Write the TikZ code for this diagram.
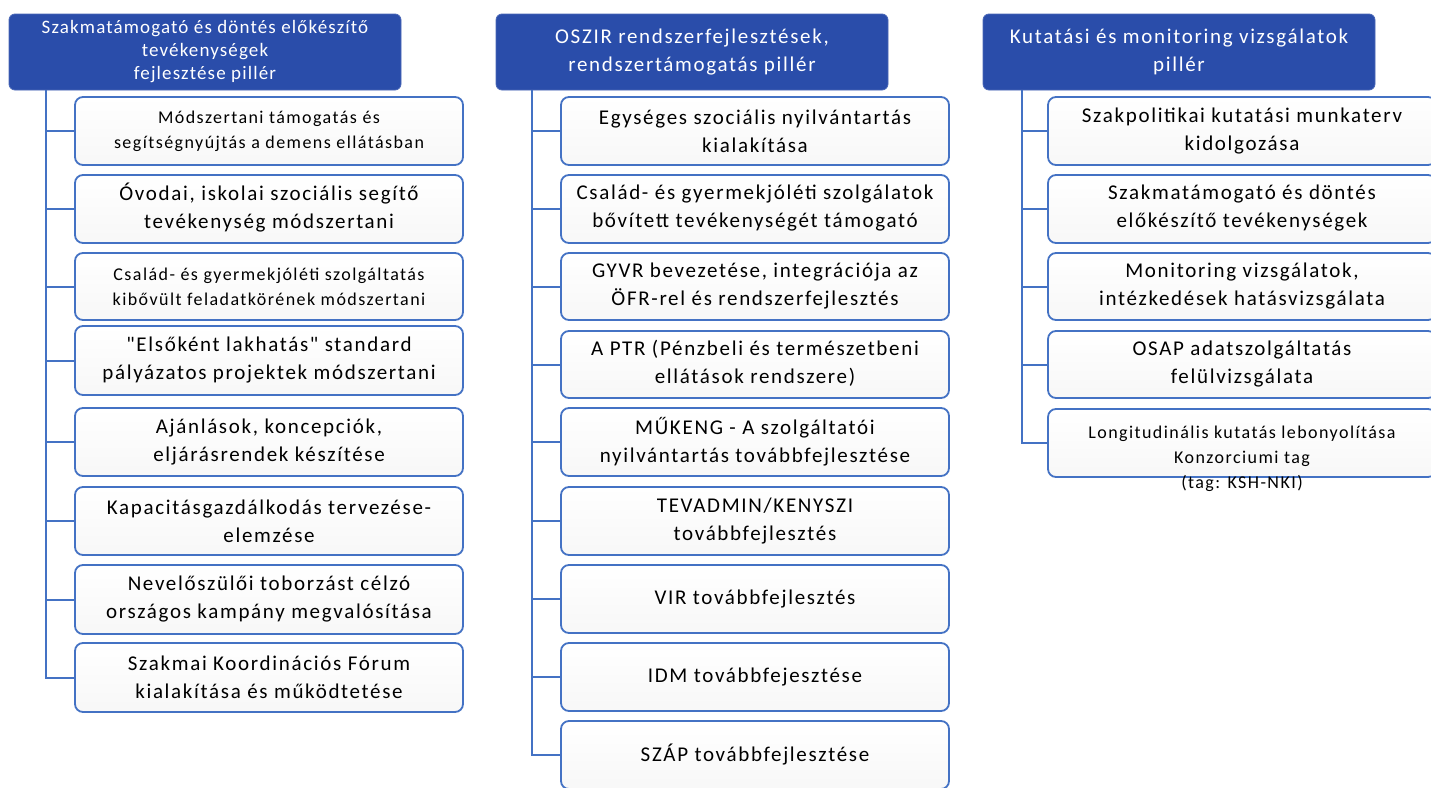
\documentclass[tikz,border=0pt]{standalone}
\usepackage{fontspec}
\setmainfont{Carlito}
\newfontfamily\boxfont[LetterSpace=8]{Carlito}
\newfontfamily\hdrsmallfont[LetterSpace=6]{Carlito}
\usetikzlibrary{calc}
\definecolor{hdrblue}{RGB}{42,77,170}
\definecolor{linkblue}{RGB}{68,114,196}
\begin{document}
\begin{tikzpicture}[x=1pt,y=-1pt,
  hdr/.style={fill=hdrblue, draw=hdrblue!85!white, line width=0.8pt, rounded corners=6pt,
    minimum width=392pt, minimum height=76pt, text=white, align=center, inner sep=0pt,
    font=\fontsize{21}{28}\selectfont\boxfont},
  item/.style={draw=linkblue, line width=1.8pt, rounded corners=8pt, top color=white,
    bottom color=black!3, minimum width=388pt, minimum height=68pt, align=center,
    inner sep=0pt, font=\fontsize{21}{28}\selectfont\boxfont},
  smalltxt/.style={font=\fontsize{18}{25}\selectfont\boxfont},
  link/.style={draw=linkblue, line width=2pt}]
\useasboundingbox (0,0) rectangle (1431,787);
\clip (0,0) rectangle (1431,787);
\fill[white] (0,0) rectangle (1431,787);

% ---------- left column ----------
\node[hdr, font=\fontsize{19}{23}\selectfont\hdrsmallfont] (l0) at (205,52) {Szakmatámogató és döntés előkészítő\\tevékenységek\\fejlesztése pillér};
\node[item, smalltxt] (l1) at (269,131) {Módszertani támogatás és\\segítségnyújtás a demens ellátásban};
\node[item, text depth=6pt] (l2) at (269,209) {Óvodai, iskolai szociális segítő\\tevékenység módszertani};
\node[item, smalltxt, minimum height=67pt] (l3) at (269,286.5) {Család- és gyermekjóléti szolgáltatás\\kibővült feladatkörének módszertani};
\node[item, minimum height=69pt] (l4) at (269,360.5) {"Elsőként lakhatás" standard\\pályázatos projektek módszertani};
\node[item] (l5) at (269,442) {Ajánlások, koncepciók,\\eljárásrendek készítése};
\node[item] (l6) at (269,521) {Kapacitásgazdálkodás tervezése-\\elemzése};
\node[item, minimum height=69pt] (l7) at (269,599.5) {Nevelőszülői toborzást célzó\\országos kampány megvalósítása};
\node[item, minimum height=69pt] (l8) at (269,677.5) {Szakmai Koordinációs Fórum\\kialakítása és működtetése};
\coordinate (lt) at ($(l0.south west)+(37,0)$);
\foreach \i in {1,...,8} { \draw[link] (lt) |- (l\i.west); }

% ---------- middle column ----------
\node[hdr] (m0) at (692,52) {OSZIR rendszerfejlesztések,\\rendszertámogatás pillér};
\node[item] (m1) at (755,131) {Egységes szociális nyilvántartás\\kialakítása};
\node[item, text depth=5pt] (m2) at (755,209) {Család- és gyermekjóléti szolgálatok\\bővített tevékenységét támogató};
\node[item, minimum height=67pt] (m3) at (755,286.5) {GYVR bevezetése, integrációja az\\ÖFR-rel és rendszerfejlesztés};
\node[item, minimum height=67pt, text depth=5pt] (m4) at (755,364.5) {A PTR (Pénzbeli és természetbeni\\ellátások rendszere)};
\node[item] (m5) at (755,442) {MŰKENG - A szolgáltatói\\nyilvántartás továbbfejlesztése};
\node[item] (m6) at (755,521) {TEVADMIN/KENYSZI\\továbbfejlesztés};
\node[item] (m7) at (755,599) {VIR továbbfejlesztés};
\node[item] (m8) at (755,677) {IDM továbbfejesztése};
\node[item] (m9) at (755,755) {SZÁP továbbfejlesztése};
\coordinate (mt) at ($(m0.south west)+(36,0)$);
\foreach \i in {1,...,9} { \draw[link] (mt) |- (m\i.west); }

% ---------- right column ----------
\node[hdr] (r0) at (1179,52) {Kutatási és monitoring vizsgálatok\\pillér};
\node[item] (r1) at (1242,131) {Szakpolitikai kutatási munkaterv\\kidolgozása};
\node[item, text depth=5pt] (r2) at (1242,209) {Szakmatámogató és döntés\\előkészítő tevékenységek};
\node[item, minimum height=67pt] (r3) at (1242,286.5) {Monitoring vizsgálatok,\\intézkedések hatásvizsgálata};
\node[item, minimum height=67pt] (r4) at (1242,364.5) {OSAP adatszolgáltatás\\felülvizsgálata};
\node[item] (r5) at (1242,443) {};
\node[smalltxt, align=center, inner sep=0pt] (r5t) at ($(r5.center)+(0,16)$) {Longitudinális kutatás lebonyolítása\\Konzorciumi tag\\(tag: KSH-NKI)};
\coordinate (rt) at ($(r0.south west)+(39,0)$);
\foreach \i in {1,...,5} { \draw[link] (rt) |- (r\i.west); }
\end{tikzpicture}
\end{document}
